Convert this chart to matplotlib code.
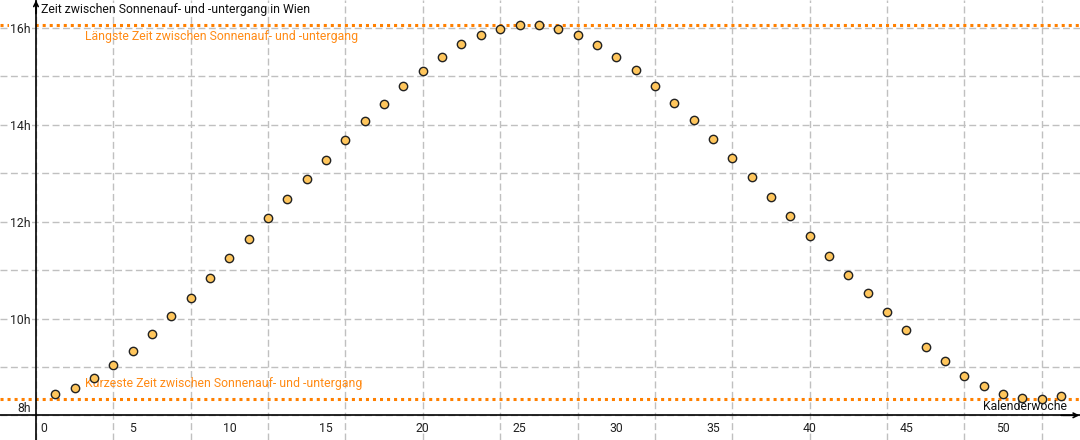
import matplotlib
matplotlib.use("Agg")
import matplotlib.pyplot as plt
import matplotlib.transforms as mtransforms

plt.rcParams['font.family'] = ['Roboto', 'DejaVu Sans']

# ---- data ----
weeks = list(range(1, 54))
hours = [8.435, 8.57, 8.77, 9.035, 9.33, 9.68, 10.06, 10.43, 10.83, 11.25,
         11.65, 12.07, 12.47, 12.88, 13.27, 13.69, 14.07, 14.44, 14.81, 15.12,
         15.41, 15.67, 15.86, 15.98, 16.06, 16.06, 15.99, 15.86, 15.66, 15.41,
         15.14, 14.81, 14.46, 14.10, 13.71, 13.32, 12.92, 12.51, 12.12, 11.70,
         11.30, 10.90, 10.52, 10.13, 9.77, 9.42, 9.12, 8.82, 8.60, 8.45,
         8.35, 8.33, 8.40]
longest = 16.07
shortest = 8.33
x_ticks = [0, 5, 10, 15, 20, 25, 30, 35, 40, 45, 50]
y_ticks = [8, 10, 12, 14, 16]
y_ticklabels = ["8h", "10h", "12h", "14h", "16h"]
title_text = "Zeit zwischen Sonnenauf- und -untergang in Wien"
xlabel_text = "Kalenderwoche"
label_long = "Längste Zeit zwischen Sonnenauf- und -untergang"
label_short = "Kürzeste Zeit zwischen Sonnenauf- und -untergang"

ORANGE = "#FF8000"
ORANGE_TXT = "#FF8A14"
FS = 8.8

fig = plt.figure(figsize=(10.8, 4.4), dpi=100)
ax = fig.add_axes([0, 0, 1, 1])
ax.set_xlim(-1.861, 53.98)
ax.set_ylim(7.49, 16.58)

# grid
for gx in range(-4, 56, 4):
    ax.axvline(gx, color="#c0c0c0", lw=1.0, dashes=(5, 2.5), zorder=0)
for gy in range(7, 17):
    ax.axhline(gy, color="#c0c0c0", lw=1.0, dashes=(5, 2.5), zorder=0)

# spines as axes through origin
for s in ["top", "right"]:
    ax.spines[s].set_visible(False)
ax.spines["left"].set_position(("data", 0))
ax.spines["bottom"].set_position(("data", 8))
ax.spines["left"].set_linewidth(1.2)
ax.spines["bottom"].set_linewidth(1.2)
ax.spines["left"].set_zorder(2)
ax.spines["bottom"].set_zorder(2)

ax.set_xticks(x_ticks)
ax.set_xticklabels([str(v) for v in x_ticks])
ax.set_yticks(y_ticks)
ax.set_yticklabels(y_ticklabels)
ax.tick_params(axis="both", length=0, labelsize=FS, colors="#222222")
ax.tick_params(axis="x", pad=5)
ax.tick_params(axis="y", pad=4)

for lbl in ax.get_yticklabels():
    lbl.set_bbox(dict(facecolor="white", edgecolor="none", pad=1.0))
ylbls = ax.get_yticklabels()
ylbls[0].set_verticalalignment("bottom")
ylbls[0].set_bbox(None)
xlbls = ax.get_xticklabels()
xlbls[0].set_transform(xlbls[0].get_transform() +
                       mtransforms.ScaledTranslation(8 / 100, 0, fig.dpi_scale_trans))

# arrows on axes
ax.annotate("", xy=(0, 16.575), xytext=(0, 16.3),
            arrowprops=dict(arrowstyle="->", color="black", lw=1.2,
                            mutation_scale=8, shrinkA=0, shrinkB=0), zorder=3)
ax.annotate("", xy=(53.95, 8), xytext=(53.0, 8),
            arrowprops=dict(arrowstyle="->", color="black", lw=1.2,
                            mutation_scale=8, shrinkA=0, shrinkB=0), zorder=3)

# orange reference lines
ax.axhline(longest, color=ORANGE, lw=2.2, linestyle=(0, (1, 1.3)), zorder=1)
ax.axhline(shortest, color=ORANGE, lw=2.2, linestyle=(0, (1, 1.3)), zorder=1)

# points
ax.scatter(weeks, hours, s=36, facecolor="#FFC65C", edgecolor="#222222",
           linewidths=1.0, zorder=4)

# texts
ax.text(0.26, 16.39, title_text, fontsize=FS, color="#111111", va="center", ha="left")
ax.text(53.31, 8.18, xlabel_text, fontsize=FS, color="#111111", va="center", ha="right")
ax.text(2.53, 15.82, label_long, fontsize=FS, color=ORANGE_TXT, va="center", ha="left")
ax.text(2.53, 8.65, label_short, fontsize=FS, color=ORANGE_TXT, va="center", ha="left")

fig.savefig("out.png", dpi=100)
